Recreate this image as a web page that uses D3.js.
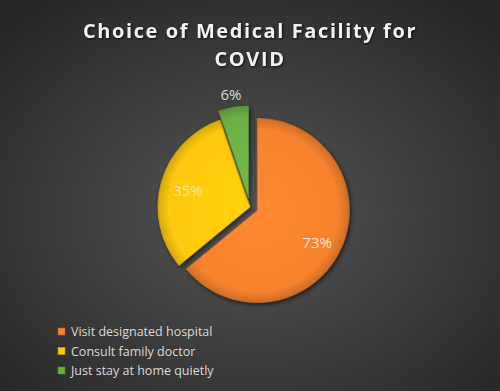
<!DOCTYPE html>
<html><head><meta charset="utf-8">
<script src="https://cdn.jsdelivr.net/npm/d3@7"></script>
<style>html,body{margin:0;padding:0;background:#333;}svg{display:block;}</style>
</head><body>
<script>
const categories = ["Visit designated hospital", "Consult family doctor", "Just stay at home quietly"];
const values = [73, 35, 6];
const labels = ["73%", "35%", "6%"];
const colors = ["#F6822E", "#FFC90A", "#6DAF45"];
const explode = [8, 0, 9];
const titleLines = ["Choice of Medical Facility for", "COVID"];

const W = 500, H = 391;
const svg = d3.select("body").append("svg").attr("width", W).attr("height", H);
const defs = svg.append("defs");
const bg = defs.append("radialGradient").attr("id","bg").attr("cx","50%").attr("cy","55%").attr("r","70%");
bg.append("stop").attr("offset","0%").attr("stop-color","#555555");
bg.append("stop").attr("offset","100%").attr("stop-color","#262626");
svg.append("rect").attr("width",W).attr("height",H).attr("fill","url(#bg)");

const sh = defs.append("filter").attr("id","sh").attr("x","-20%").attr("y","-20%").attr("width","140%").attr("height","140%");
sh.append("feDropShadow").attr("dx",1.5).attr("dy",2).attr("stdDeviation",2).attr("flood-color","#000").attr("flood-opacity",0.6);

colors.forEach((c,i)=>{
  const g = defs.append("radialGradient").attr("id","g"+i).attr("gradientUnits","userSpaceOnUse")
    .attr("cx",0).attr("cy",0).attr("r",92);
  const col = d3.color(c);
  g.append("stop").attr("offset","0%").attr("stop-color",col.brighter(0.15));
  g.append("stop").attr("offset","88%").attr("stop-color",c);
  g.append("stop").attr("offset","100%").attr("stop-color",col.darker(0.5));
});

svg.selectAll("text.title").data(titleLines).join("text")
  .attr("x", 250).attr("y",(d,i)=>38 + i*28)
  .attr("text-anchor","middle").attr("fill","#f2f2f2")
  .attr("font-family","'Open Sans', sans-serif").attr("font-weight","bold")
  .attr("font-size",20).attr("letter-spacing",1.6)
  .style("filter","drop-shadow(1px 1px 1px rgba(0,0,0,0.7))")
  .text(d=>d);

const cx = 250, cy = 207, r = 92;
const pie = d3.pie().sort(null).value(d=>d)(values);
const arc = d3.arc().innerRadius(0).outerRadius(r);
const g = svg.append("g").attr("transform",`translate(${cx},${cy})`);
const slices = g.selectAll("g.slice").data(pie).join("g")
  .attr("transform",(d,i)=>{
    const a = (d.startAngle+d.endAngle)/2;
    return `translate(${Math.sin(a)*explode[i]},${-Math.cos(a)*explode[i]})`;
  });
slices.append("path").attr("d",arc).attr("fill",(d,i)=>`url(#g${i})`)
  .attr("stroke",(d,i)=>d3.color(colors[i]).darker(0.6)).attr("stroke-width",0.8)
  .attr("filter","url(#sh)");

const labelArc = [d3.arc().innerRadius(r*0.72).outerRadius(r*0.72),
                  d3.arc().innerRadius(r*0.7).outerRadius(r*0.7),
                  d3.arc().innerRadius(r*1.16).outerRadius(r*1.16)];
slices.append("text")
  .attr("transform",(d,i)=>`translate(${labelArc[i].centroid(d)})`)
  .attr("text-anchor","middle").attr("dy",(d,i)=> i===0 ? "0.6em" : "0.45em")
  .attr("font-family","'Open Sans', sans-serif").attr("font-size",15)
  .attr("fill",(d,i)=> i===1 ? "#f3e3a8" : (i===0 ? "#f5e6dc" : "#d9d9d9"))
  .text((d,i)=>labels[i]);

const leg = svg.append("g").selectAll("g").data(categories).join("g")
  .attr("transform",(d,i)=>`translate(58,${332 + i*19.5})`);
leg.append("rect").attr("x",0).attr("y",-4).attr("width",7).attr("height",7)
  .attr("fill",(d,i)=>colors[i]).attr("stroke",(d,i)=>d3.color(colors[i]).darker(0.8)).attr("stroke-width",0.6);
leg.append("text").attr("x",13).attr("dy","0.35em")
  .attr("font-family","'Open Sans', sans-serif").attr("font-size",12.5)
  .attr("fill","#d9d9d9").text(d=>d);
</script>
</body></html>
